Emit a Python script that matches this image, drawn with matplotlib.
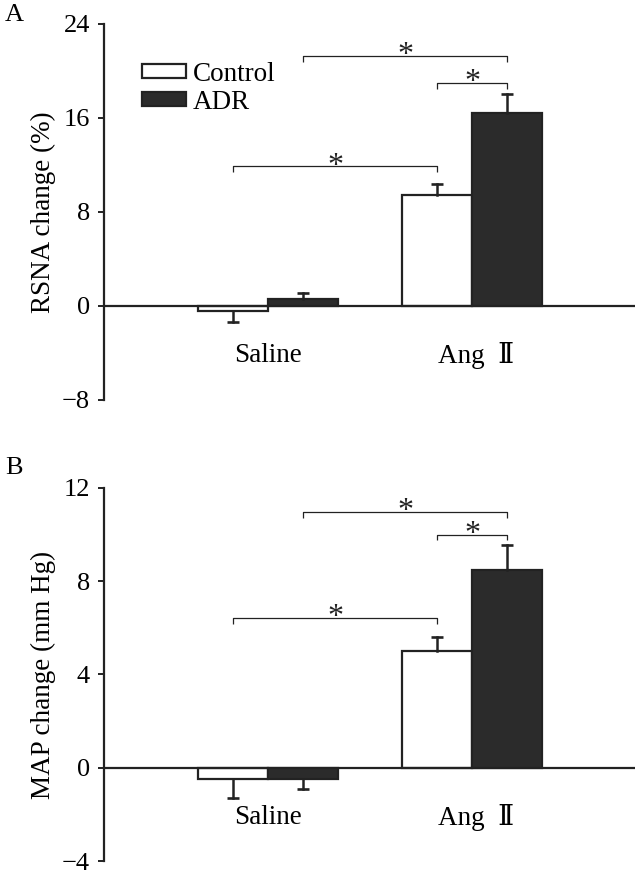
import numpy as np
import matplotlib.pyplot as plt

plt.rcParams['font.family'] = ['Liberation Serif', 'DejaVu Serif']

groups = ['Saline', 'Ang  Ⅱ']
series = ['Control', 'ADR']

rsna_control = [-0.45, 9.45]
rsna_control_err = [0.95, 0.95]
rsna_adr = [0.6, 16.4]
rsna_adr_err = [0.5, 1.6]

map_control = [-0.5, 5.0]
map_control_err = [0.8, 0.6]
map_adr = [-0.47, 8.47]
map_adr_err = [0.45, 1.1]

colors = ['white', '#2b2b2b']
ink = '#222222'
width = 0.343
x = np.arange(len(groups))


def bracket(ax, x1, x2, y, drop):
    ax.plot([x1, x1, x2, x2], [y - drop, y, y, y - drop], color=ink, lw=0.9,
            solid_capstyle='butt')
    ax.annotate('*', xy=((x1 + x2) / 2, y), xytext=(0, -5.5), textcoords='offset points',
                ha='center', va='baseline', fontsize=23, color=ink)


def panel(ax, control, control_err, adr, adr_err, ylim, yticks, ylabel, levels, drop, letter,
          letter_y, show_legend):
    vals = [control, adr]
    errs = [control_err, adr_err]
    offsets = [-width / 2, width / 2]
    for i in range(2):
        xs = x + offsets[i]
        ax.bar(xs, vals[i], width, color=colors[i], edgecolor=ink, linewidth=1.6,
               label=series[i], zorder=2)
        # one-sided error bars, pointing away from zero
        for xi, v, e in zip(xs, vals[i], errs[i]):
            end = v + e if v >= 0 else v - e
            ax.plot([xi, xi], [v, end], color=ink, lw=1.8, zorder=3)
            ax.plot([xi], [end], marker='_', markersize=9, markeredgewidth=1.9,
                    color=ink, zorder=3)

    ax.axhline(0, color=ink, lw=1.6, zorder=4)
    ax.set_xlim(-0.804, 1.799)
    ax.set_ylim(*ylim)
    ax.set_yticks(yticks)
    ax.set_yticklabels(['−' + str(abs(t)) if t < 0 else str(t) for t in yticks])
    ax.set_xticks([])
    for lab, xi in zip(groups, x):
        ax.text(xi + 0.02 * (xi > 0), 0.117, lab, transform=ax.get_xaxis_transform(),
                ha='center', va='center', fontsize=19.5)
    for s in ['top', 'right', 'bottom']:
        ax.spines[s].set_visible(False)
    ax.spines['left'].set_linewidth(1.6)
    ax.spines['left'].set_color(ink)
    ax.tick_params(axis='y', length=4, width=1.4, labelsize=19, pad=6, color=ink)
    ax.set_ylabel(ylabel, fontsize=19.5, labelpad=4)

    # significance brackets: saline ctrl -> ang ctrl, saline adr -> ang adr, ang ctrl -> ang adr
    bracket(ax, x[0] - width / 2, x[1] - width / 2, levels[0], drop)
    bracket(ax, x[0] + width / 2, x[1] + width / 2, levels[1], drop)
    bracket(ax, x[1] - width / 2, x[1] + width / 2, levels[2], drop)

    ax.text(-0.186, letter_y, letter, transform=ax.transAxes, fontsize=19, ha='left',
            va='center')

    if show_legend:
        ax.legend(loc='upper left', bbox_to_anchor=(0.072, 0.9), frameon=False,
                  fontsize=19.5, handlelength=1.62, handleheight=0.44, handletextpad=0.25,
                  labelspacing=0.12, borderpad=0, borderaxespad=0)


fig = plt.figure(figsize=(6.41, 8.75), dpi=100)
ax1 = fig.add_axes([0.162, 0.5429, 0.829, 0.4297])
ax2 = fig.add_axes([0.162, 0.0160, 0.829, 0.4263])

panel(ax1, rsna_control, rsna_control_err, rsna_adr, rsna_adr_err, (-8, 24),
      [-8, 0, 8, 16, 24], 'RSNA change (%)', [11.9, 21.3, 19.0], 0.5, 'A', 1.024, True)
panel(ax2, map_control, map_control_err, map_adr, map_adr_err, (-4, 12),
      [-4, 0, 4, 8, 12], 'MAP change (mm Hg)', [6.43, 10.98, 10.0], 0.25, 'B', 1.053, False)

fig.savefig('out.png', dpi=100)
